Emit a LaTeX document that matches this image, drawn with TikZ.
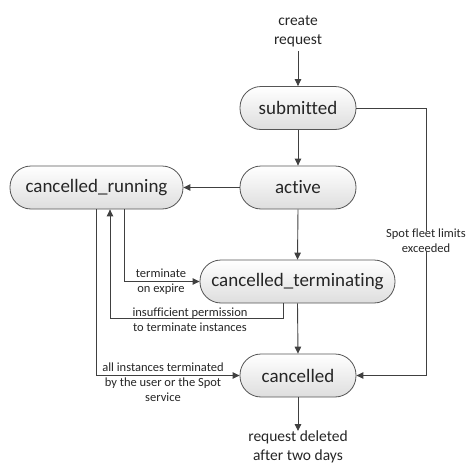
\documentclass[tikz,border=0pt]{standalone}
\usepackage{fontspec}
\setmainfont{Carlito}[Ligatures={NoCommon}]
\usetikzlibrary{arrows.meta}
\definecolor{ln}{HTML}{404040}
\definecolor{bd}{HTML}{555555}
\begin{document}
\begin{tikzpicture}[x=1pt,y=-1pt,
  state/.style={draw=bd, line width=0.8pt, rounded corners=21pt, top color=white, bottom color=black!13,
    minimum height=43pt, inner sep=0pt, font=\fontsize{19}{22}\selectfont, text=black!85},
  lbl/.style={font=\fontsize{12.5}{15}\selectfont, align=center, inner sep=0pt, text=black!85},
  big/.style={font=\fontsize{15.5}{19}\selectfont, align=center, inner sep=0pt, text=black!85},
  conn/.style={draw=ln, line width=0.9pt},
  arr/.style={conn, -{Triangle[length=7pt,width=6.5pt]}}]
\useasboundingbox (0,0) rectangle (467,466);
\node[big] (create) at (298,31.5) {create\\request};
\node[state, minimum width=116pt] (sub) at (298,108) {submitted};
\node[state, minimum width=116pt] (act) at (298,187.5) {active};
\node[state, minimum width=173pt] (cr) at (96.5,187.5) {cancelled\_running};
\node[state, minimum width=195pt] (ct) at (297.5,281.5) {cancelled\_terminating};
\node[state, minimum width=116pt] (can) at (298,375.5) {cancelled};
\node[lbl] (spot) at (426,241) {Spot fleet limits\\exceeded};
\node[lbl] (term) at (161,281.5) {terminate\\on expire};
\node[lbl] (insuf) at (190,320) {insufficient permission\\to terminate instances};
\node[lbl] (all) at (163,382) {all instances terminated\\by the user or the Spot\\service};
\node[big] (del) at (298,447) {request deleted\\after two days};
\coordinate (delend) at (298,431);
\coordinate (a124) at (124,0);
\coordinate (a110) at (110,318);
\coordinate (a96) at (96,0);
\coordinate (a283) at (283,318);
\draw[arr] (create.south) ++(0,4) -- (sub.north);
\draw[arr] (sub.south) -- (act.north);
\draw[arr] (act.west) -- (cr.east);
\draw[arr] (act.south) -- (ct.north);
\draw[arr] (ct.south) -- (can.north);
\draw[arr] (can.south) -- (delend);
\draw[conn] (sub.east) -| ([yshift=-2pt]spot.north);
\draw[arr] ([yshift=2pt]spot.south) |- (can.east);
\draw[arr] (cr.south -| a124) |- (ct.west);
\draw[arr] (ct.south -| a283) -- (a283) -- (a110) -- (cr.south -| a110);
\draw[arr] (cr.south -| a96) |- (can.west);
\end{tikzpicture}
\end{document}
